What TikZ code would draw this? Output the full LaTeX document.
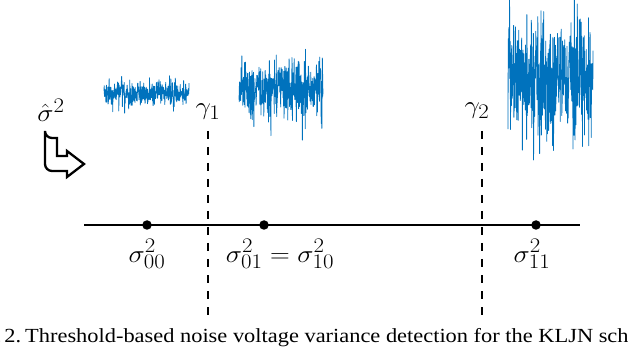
\documentclass[tikz,border=0pt]{standalone}
\usepackage{fontspec}
\newfontfamily\capfont{Liberation Serif}
\definecolor{mblue}{RGB}{0,114,189}
\begin{document}
\begin{tikzpicture}[x=1pt,y=-1pt,
  noise/.style={mblue,line width=0.8pt,line join=round},
  lbl/.style={inner sep=0pt,font=\fontsize{29}{35}\selectfont,xscale=1.1,transform shape},
  captext/.style={inner sep=0pt,font=\capfont\fontsize{20}{24}\selectfont,xscale=1.12,transform shape},
  dot/.style={circle,fill=black,inner sep=0pt,minimum size=9.5pt},
  axisline/.style={line width=2pt},
  thr/.style={line width=2.5pt,dash pattern=on 8pt off 8pt},
  bentarrow/.style={line width=2.3pt,line join=miter,fill=white}]
\useasboundingbox (0,0) rectangle (628,352);
\clip (0,0) rectangle (628,352);
\pgfmathsetseed{11}
% noise blocks
\draw[noise] plot[samples=380, domain=104:189, variable=\t] (\t, {94 + 6*sqrt(-2*ln(rnd+0.0001))*cos(360*rnd)});
\draw[noise] plot[samples=380, domain=239:323, variable=\t] (\t, {90 + 15*sqrt(-2*ln(rnd+0.0001))*cos(360*rnd)});
\draw[noise] plot[samples=380, domain=508:593, variable=\t] (\t, {80 + 29*sqrt(-2*ln(rnd+0.0001))*cos(360*rnd)});
% axis
\coordinate (axL) at (84,225);
\coordinate (axR) at (580,225);
\draw[axisline] (axL) -- (axR);
\node[dot] (d00) at (147,225) {};
\node[dot] (d01) at (264,225) {};
\node[dot] (d11) at (536,225) {};
% thresholds
\coordinate (t1top) at (208,131);
\coordinate (t1bot) at (208,318);
\coordinate (t2top) at (482,131);
\coordinate (t2bot) at (482,318);
\draw[thr] (t1top) -- (t1bot);
\draw[thr] (t2top) -- (t2bot);
\node[lbl,anchor=base] (g1) at (208,115) {$\gamma_1$};
\node[lbl,anchor=base] (g2) at (477,114) {$\gamma_2$};
% labels
\node[lbl,anchor=base] (l00) at (147,262) {$\sigma_{00}^2$};
\node[lbl,anchor=base] (l01) at (280,262) {$\sigma_{01}^2=\sigma_{10}^2$};
\node[lbl,anchor=base] (l11) at (532,262) {$\sigma_{11}^2$};
\node[lbl,anchor=base] (sh) at (51,122) {$\hat\sigma^2$};
% bent arrow
\draw[bentarrow] (45,138) -- (57,138) -- (57,156) -- (67,156) -- (67,151) -- (84,164) -- (67,177) -- (67,171)
  [rounded corners=7pt] -- (45,171) -- (45,138) -- cycle;
% caption
\node[captext,anchor=base west] (cap2) at (25,342)
  {Threshold-based noise voltage variance detection for the KLJN scheme.};
\node[captext,anchor=base east] (cap1) at (21.5,342) {Fig.\hspace{0.12em}2.};
\end{tikzpicture}
\end{document}
